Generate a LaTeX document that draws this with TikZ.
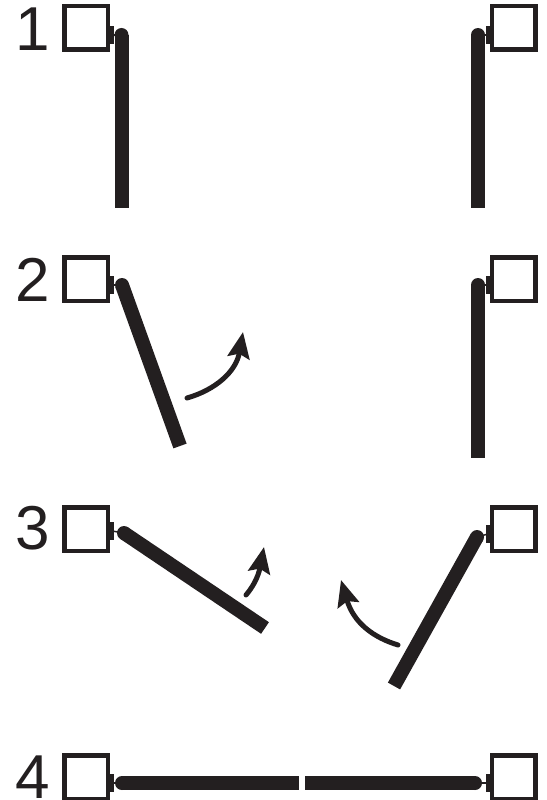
\documentclass[tikz,border=0pt]{standalone}
\usepackage{fontspec}
\setmainfont{Liberation Sans}
\usetikzlibrary{arrows.meta}
\definecolor{ink}{HTML}{231F20}
\begin{document}
\begin{tikzpicture}[x=1pt,y=-1pt,
  frame/.style={draw=ink,line width=4.5pt,minimum size=43.5pt,inner sep=0pt,fill=white},
  tab/.style={fill=ink,inner sep=0pt,minimum width=4pt,minimum height=18pt},
  leaf/.style={draw=ink,line width=14pt,line cap=butt},
  knob/.style={fill=ink,circle,inner sep=0pt,minimum size=14pt},
  link/.style={draw=ink,line width=1.5pt},
  swing/.style={draw=ink,line width=5pt,line cap=round,-{Stealth[length=26pt,width=22pt,inset=4pt]}},
  num/.style={anchor=base west,inner sep=0pt,font=\fontsize{62}{62}\selectfont,text=ink}]
\useasboundingbox (0,0) rectangle (546,800);

% ---------- row 1 ----------
\node[num] (n1) at (15,51) {1};
\coordinate (k1l) at (121.5,35); \coordinate (e1l) at (121.5,208);
\coordinate (k1r) at (478,35);   \coordinate (e1r) at (478,208);
\node[tab] (t1l) at (112,35) {};
\node[tab] (t1r) at (488,35) {};
\draw[link] (t1l.center) -- (k1l); \draw[link] (t1r.center) -- (k1r);
\draw[leaf] (k1l) -- (e1l); \draw[leaf] (k1r) -- (e1r);
\node[knob] (c1l) at (k1l) {}; \node[knob] (c1r) at (k1r) {};
\node[frame] (b1l) at (86,28) {};
\node[frame] (b1r) at (513.5,28) {};
\node[tab] at (t1l) {}; \node[tab] at (t1r) {};

% ---------- row 2 ----------
\node[num] (n2) at (15,301) {2};
\coordinate (k2l) at (122,285); \coordinate (e2l) at (180,446);
\coordinate (k2r) at (478,285); \coordinate (e2r) at (478,458);
\node[tab] (t2l) at (112,285) {};
\node[tab] (t2r) at (488,285) {};
\draw[link] (t2l.center) -- (k2l); \draw[link] (t2r.center) -- (k2r);
\draw[leaf] (k2l) -- (e2l); \draw[leaf] (k2r) -- (e2r);
\node[knob] (c2l) at (k2l) {}; \node[knob] (c2r) at (k2r) {};
\node[frame] (b2l) at (86,279) {};
\node[frame] (b2r) at (513.5,279) {};
\node[tab] at (t2l) {}; \node[tab] at (t2r) {};
\coordinate (a2s) at (187,398); \coordinate (a2e) at (243,332);
\draw[swing] (a2s) .. controls (215,390) and (236,372) .. (a2e);

% ---------- row 3 ----------
\node[num] (n3) at (15,549) {3};
\coordinate (k3l) at (124,533); \coordinate (e3l) at (265,628);
\coordinate (k3r) at (477,537); \coordinate (e3r) at (394,686);
\node[tab] (t3l) at (112,531) {};
\node[tab] (t3r) at (488,534) {};
\draw[link] (t3l.center) -- (k3l); \draw[link] (t3r.center) -- (k3r);
\draw[leaf] (k3l) -- (e3l); \draw[leaf] (k3r) -- (e3r);
\node[knob] (c3l) at (k3l) {}; \node[knob] (c3r) at (k3r) {};
\node[frame] (b3l) at (86,529) {};
\node[frame] (b3r) at (513.5,529) {};
\node[tab] at (t3l) {}; \node[tab] at (t3r) {};
\coordinate (a3s) at (246,595); \coordinate (a3e) at (264,547);
\draw[swing] (a3s) .. controls (252,588) and (258,578) .. (a3e);
\coordinate (a4s) at (398,645); \coordinate (a4e) at (341,580);
\draw[swing] (a4s) .. controls (375,638) and (354,624) .. (a4e);

% ---------- row 4 ----------
\node[num] (n4) at (15,798) {4};
\coordinate (k4l) at (122,783); \coordinate (e4l) at (299,783);
\coordinate (k4r) at (475,783); \coordinate (e4r) at (305,783);
\node[tab] (t4l) at (112,783) {};
\node[tab] (t4r) at (488,783) {};
\draw[link] (t4l.center) -- (k4l); \draw[link] (t4r.center) -- (k4r);
\draw[leaf] (k4l) -- (e4l); \draw[leaf] (k4r) -- (e4r);
\node[knob] (c4l) at (k4l) {}; \node[knob] (c4r) at (k4r) {};
\node[frame] (b4l) at (86,777) {};
\node[frame] (b4r) at (513.5,777) {};
\node[tab] at (t4l) {}; \node[tab] at (t4r) {};
\end{tikzpicture}
\end{document}
